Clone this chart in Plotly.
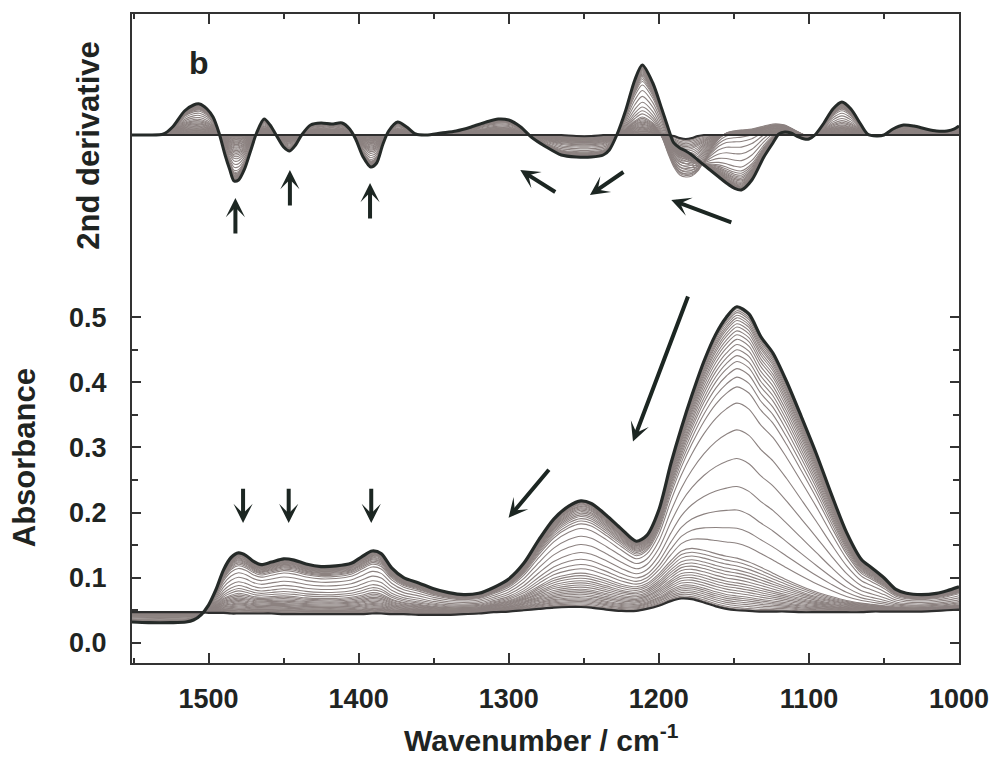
import plotly.graph_objects as go

# ---------------- absorbance spectra (bottom panel) ----------------
wn_abs = [1551, 1540, 1525, 1515, 1510, 1505, 1500, 1495, 1490, 1485,
          1480, 1475, 1470, 1465, 1458, 1450, 1443, 1435, 1425, 1415,
          1405, 1398, 1391, 1385, 1378, 1370, 1360, 1350, 1340, 1330,
          1320, 1310, 1300, 1290, 1280, 1270, 1260, 1252, 1245, 1235,
          1225, 1215, 1208, 1200, 1192, 1185, 1178, 1170, 1162, 1155,
          1148, 1140, 1132, 1124, 1115, 1105, 1095, 1085, 1075, 1065,
          1058, 1050, 1042, 1035, 1025, 1015, 1008, 1000]

abs_final = [0.032, 0.031, 0.031, 0.032, 0.035, 0.043, 0.058, 0.082, 0.112, 0.131,
             0.138, 0.134, 0.125, 0.120, 0.124, 0.129, 0.127, 0.121, 0.117, 0.118,
             0.122, 0.132, 0.141, 0.137, 0.115, 0.100, 0.092, 0.083, 0.077, 0.074,
             0.076, 0.085, 0.098, 0.122, 0.158, 0.190, 0.210, 0.218, 0.214, 0.196,
             0.175, 0.156, 0.165, 0.204, 0.275, 0.330, 0.380, 0.432, 0.474, 0.500,
             0.516, 0.505, 0.470, 0.445, 0.402, 0.347, 0.290, 0.228, 0.170, 0.128,
             0.115, 0.100, 0.082, 0.076, 0.074, 0.076, 0.080, 0.086]

abs_mid = [0.042, 0.042, 0.042, 0.042, 0.042, 0.044, 0.050, 0.058, 0.068, 0.073,
           0.076, 0.074, 0.071, 0.070, 0.071, 0.072, 0.071, 0.069, 0.068, 0.068,
           0.070, 0.073, 0.077, 0.075, 0.067, 0.062, 0.059, 0.056, 0.054, 0.054,
           0.055, 0.060, 0.065, 0.074, 0.087, 0.099, 0.105, 0.107, 0.105, 0.098,
           0.090, 0.086, 0.091, 0.106, 0.126, 0.141, 0.145, 0.142, 0.137, 0.133,
           0.130, 0.124, 0.116, 0.107, 0.097, 0.087, 0.078, 0.071, 0.065, 0.061,
           0.059, 0.057, 0.055, 0.054, 0.054, 0.055, 0.056, 0.058]

abs_initial = [0.047, 0.047, 0.047, 0.047, 0.047, 0.047, 0.046, 0.046, 0.046, 0.045,
               0.045, 0.045, 0.045, 0.045, 0.045, 0.044, 0.044, 0.044, 0.044, 0.044,
               0.044, 0.044, 0.045, 0.045, 0.044, 0.044, 0.043, 0.043, 0.043, 0.044,
               0.045, 0.047, 0.048, 0.050, 0.052, 0.054, 0.055, 0.055, 0.054, 0.051,
               0.049, 0.049, 0.052, 0.057, 0.064, 0.068, 0.067, 0.062, 0.056, 0.052,
               0.050, 0.049, 0.048, 0.048, 0.048, 0.047, 0.047, 0.047, 0.047, 0.047,
               0.048, 0.048, 0.048, 0.048, 0.048, 0.049, 0.050, 0.051]

# absorbance at 1148 cm-1 of each intermediate spectrum
levels_1148 = [0.513, 0.510, 0.507, 0.503, 0.499, 0.495, 0.490, 0.485, 0.479, 0.473,
               0.466, 0.458, 0.450, 0.441, 0.432, 0.421, 0.408, 0.393, 0.368, 0.327,
               0.283, 0.240, 0.204, 0.176, 0.153, 0.130,
               0.124, 0.118, 0.112, 0.107, 0.102, 0.097, 0.092, 0.088, 0.084, 0.080,
               0.076, 0.072, 0.069, 0.066, 0.063, 0.060, 0.057, 0.054, 0.052]

# ---------------- 2nd derivative spectra (top panel, arb. units) ----------------
wn_d = [1551, 1540, 1530, 1524, 1516, 1510, 1506, 1501, 1497, 1493,
        1489, 1486, 1483, 1480, 1476, 1472, 1468, 1463, 1459, 1455,
        1450, 1446, 1442, 1438, 1432, 1425, 1418, 1411, 1406, 1402,
        1397, 1392, 1388, 1384, 1380, 1374, 1368, 1362, 1355, 1345,
        1335, 1325, 1315, 1307, 1300, 1292, 1285, 1275, 1265, 1255,
        1245, 1237, 1233, 1228, 1222, 1216, 1211, 1204, 1198, 1194,
        1190, 1186, 1182, 1178, 1174, 1170, 1165, 1160, 1155, 1150,
        1145, 1138, 1130, 1124, 1120, 1116, 1112, 1107, 1103, 1100,
        1096, 1090, 1084, 1078, 1072, 1066, 1061, 1055, 1050, 1044,
        1037, 1030, 1022, 1015, 1008, 1003, 1000]

d2_final = [0, 0, 1, 8, 24, 30, 31, 26, 18, 2,
            -20, -34, -46, -45, -34, -16, 2, 16, 10, 0,
            -12, -16, -10, 0, 10, 12, 11, 12, 6, -4,
            -22, -32, -28, -10, 4, 13, 8, 1, 0, 2,
            4, 8, 13, 16, 15, 8, -2, -12, -20, -22,
            -22, -20, -15, 0, 25, 55, 70, 52, 26, 8,
            -8, -13, -16, -20, -25, -30, -36, -42, -48, -53,
            -55, -45, -22, -8, 1, 3, 2, -2, -4, -4,
            0, 12, 26, 33, 26, 12, 1, -1, 0, 6,
            10, 9, 6, 4, 4, 6, 9]

d2_mid = [0, 0, 0.4, 3, 10, 12, 12, 10, 7, 1,
          -8, -14, -18, -18, -14, -6, 1, 6, 4, 0,
          -5, -6, -4, 0, 4, 5, 4, 5, 2, -2,
          -9, -13, -11, -4, 2, 5, 3, 0, 0, 1,
          2, 3, 5, 6, 6, 3, -1, -4, -7, -8,
          -8, -7, -5, 0, 6, 14, 18, 12, -2, -18,
          -32, -40, -42, -41, -36, -26, -14, -4, 2, 4,
          5, 6, 9, 11, 11, 10, 7, 3, 0, -1,
          0, 4, 8, 10, 8, 4, 0, 0, 0, 2,
          4, 4, 3, 2, 2, 3, 4]

d2_initial = [0, 0, 0, 0, 0, 0, 0, 0, 0, 0,
              0, 0, 0, 0, 0, 0, 0, 0, 0, 0,
              0, 0, 0, 0, 0, 0, 0, 0, 0, 0,
              0, 0, 0, 0, 0, 0, 0, 0, 0, 0,
              0, 0, 0, 0, 0, 0, 0, 0, 0, -1,
              -1, 0, 0, 0, 0, 0, 0, 0, 0, 0,
              -1, -3, -4, -3, -1, 0, 0, 0, 0, 0,
              0, 0, 0, 0, 0, 0, 0, 0, 0, 0,
              0, 0, 0, 0, 0, 0, 0, 0, 0, 0,
              0, 0, 0, 0, 0, 0, 0]

x_ticks = [1500, 1400, 1300, 1200, 1100, 1000]
y_ticks = [0.0, 0.1, 0.2, 0.3, 0.4, 0.5]

# ---------------- styles ----------------
GREY = "rgb(140,130,128)"
DARK = "#252a28"
TXT = "#1f2422"
FONT = "Liberation Sans, Arial, sans-serif"

fig = go.Figure()

i_ref = wn_abs.index(1148)


def blend(a, b, t):
    return [ai + t * (bi - ai) for ai, bi in zip(a, b)]


for L in levels_1148:
    if L >= abs_mid[i_ref]:
        t = (L - abs_mid[i_ref]) / (abs_final[i_ref] - abs_mid[i_ref])
        ya = blend(abs_mid, abs_final, t)
        yd = blend(d2_mid, d2_final, t)
    else:
        t = (L - abs_initial[i_ref]) / (abs_mid[i_ref] - abs_initial[i_ref])
        ya = blend(abs_initial, abs_mid, t)
        yd = blend(d2_initial, d2_mid, t)
    fig.add_trace(go.Scatter(x=wn_abs, y=ya, mode="lines", xaxis="x", yaxis="y",
                             line=dict(color=GREY, width=1.1, shape="spline", smoothing=0.8),
                             hoverinfo="skip", showlegend=False))
    fig.add_trace(go.Scatter(x=wn_d, y=yd, mode="lines", xaxis="x2", yaxis="y2",
                             line=dict(color=GREY, width=1.1, shape="spline", smoothing=0.8),
                             hoverinfo="skip", showlegend=False))

# initial (dotted-looking) spectrum
fig.add_trace(go.Scatter(x=wn_abs, y=abs_initial, mode="lines", xaxis="x", yaxis="y",
                         line=dict(color="#2e2e2e", width=2.2, shape="spline", smoothing=0.8),
                         showlegend=False))
fig.add_trace(go.Scatter(x=wn_d, y=d2_initial, mode="lines", xaxis="x2", yaxis="y2",
                         line=dict(color="#2e2e2e", width=2.0, shape="spline", smoothing=0.8),
                         showlegend=False))
# bold spectrum
fig.add_trace(go.Scatter(x=wn_abs, y=abs_final, mode="lines", xaxis="x", yaxis="y",
                         line=dict(color=DARK, width=3.2, shape="spline", smoothing=0.8),
                         showlegend=False))
fig.add_trace(go.Scatter(x=wn_d, y=d2_final, mode="lines", xaxis="x2", yaxis="y2",
                         line=dict(color=DARK, width=3.0, shape="spline", smoothing=0.8),
                         showlegend=False))

axis_common = dict(showline=True, linecolor="#333", linewidth=2, showgrid=False,
                   zeroline=False, tickcolor="#333", tickwidth=1.5)

fig.update_layout(
    width=1001, height=760,
    margin=dict(l=132, r=39, t=14, b=97),
    paper_bgcolor="white", plot_bgcolor="white",
    xaxis=dict(domain=[0, 1], anchor="y", range=[1551, 1000], tickvals=x_ticks,
               ticks="inside", ticklen=10, ticklabelstandoff=11,
               minor=dict(dtick=50, ticks="inside", ticklen=5, tickcolor="#333", tickwidth=1.5),
               tickfont=dict(family=FONT, size=27, color=TXT, weight="bold"),
               **axis_common),
    yaxis=dict(domain=[0, 0.584], anchor="x", range=[-0.031, 0.551], tickvals=y_ticks,
               tickformat=".1f", ticks="inside", ticklen=9, mirror="ticks", ticklabelstandoff=18,
               minor=dict(dtick=0.05, ticks="inside", ticklen=6, tickcolor="#333", tickwidth=1.5),
               tickfont=dict(family=FONT, size=27, color=TXT, weight="bold"),
               **axis_common),
    xaxis2=dict(domain=[0, 1], anchor="y2", matches="x", side="top", range=[1551, 1000],
                tickvals=x_ticks, ticks="inside", ticklen=10, showticklabels=False,
                minor=dict(dtick=50, ticks="inside", ticklen=5, tickcolor="#333", tickwidth=1.5),
                **axis_common),
    yaxis2=dict(domain=[0.584, 1], anchor="x2", range=[-149, 121], ticks="",
                showticklabels=False, mirror=True, **axis_common),
)

ann = []
# axis titles and panel label
common_txt = dict(xref="paper", yref="paper", showarrow=False, xanchor="center", yanchor="middle")
ann.append(dict(x=-0.129, y=0.316, text="<b>Absorbance</b>", textangle=-90,
                font=dict(family=FONT, size=31, color=TXT), **common_txt))
ann.append(dict(x=-0.052, y=0.797, text="<b>2nd derivative</b>", textangle=-90,
                font=dict(family=FONT, size=31, color=TXT), **common_txt))
ann.append(dict(x=0.495, y=-0.116, text="<b>Wavenumber / cm<sup>-1</sup></b>",
                font=dict(family=FONT, size=30, color=TXT), **common_txt))
ann.append(dict(x=0.081, y=0.925, text="<b>b</b>",
                font=dict(family=FONT, size=32, color=TXT), **common_txt))

# arrows: (head_x, head_y, tail_x, tail_y)
arrows_abs = [(1477, 0.184, 1477, 0.239), (1446.6, 0.184, 1446.6, 0.239),
              (1391.6, 0.184, 1391.6, 0.239), (1300.1, 0.192, 1272.4, 0.268),
              (1217.2, 0.309, 1180.2, 0.534)]
arrows_d2 = [(1482.1, -63, 1482.1, -100), (1445.8, -35, 1445.8, -72),
             (1392.4, -48, 1392.4, -85), (1292.3, -35, 1268.0, -58),
             (1245.9, -60, 1222.6, -36), (1191.7, -65, 1150.7, -88)]
arrow_style = dict(showarrow=True, arrowhead=3, arrowsize=0.8, arrowwidth=4,
                   arrowcolor="#1c2622", text="")
for hx, hy, tx, ty in arrows_abs:
    ann.append(dict(xref="x", yref="y", axref="x", ayref="y", x=hx, y=hy, ax=tx, ay=ty,
                    **arrow_style))
for hx, hy, tx, ty in arrows_d2:
    ann.append(dict(xref="x2", yref="y2", axref="x2", ayref="y2", x=hx, y=hy, ax=tx, ay=ty,
                    **arrow_style))
fig.update_layout(annotations=ann)

fig.write_html("out.html")
